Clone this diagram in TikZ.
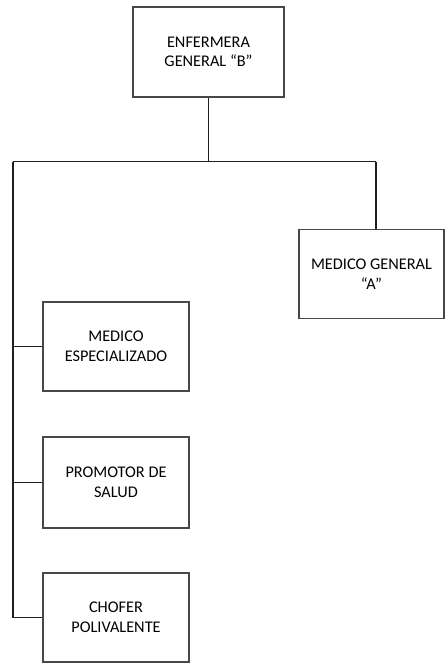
\documentclass[tikz,border=0pt]{standalone}
\usepackage{fontspec}
\setmainfont{Carlito}
\begin{document}
\begin{tikzpicture}[x=1pt,y=-1pt,
  orgbox/.style={draw=black!72, line width=1.1pt, fill=white, align=center,
    inner sep=0pt, font=\fontsize{16.3}{19.5}\selectfont},
  conn/.style={draw=black!88, line width=1.1pt}]
\useasboundingbox (0,0) rectangle (445,664);
\node[orgbox, minimum width=151pt, minimum height=90pt] (top) at (208.5,52) {ENFERMERA\\GENERAL “B”};
\node[orgbox, minimum width=145pt, minimum height=89pt] (medA) at (371.5,274) {MEDICO GENERAL\\“A”};
\node[orgbox, minimum width=146pt, minimum height=89pt] (esp) at (116,346.5) {MEDICO\\ESPECIALIZADO};
\node[orgbox, minimum width=146pt, minimum height=91pt] (prom) at (116,482.5) {PROMOTOR DE\\SALUD};
\node[orgbox, minimum width=146pt, minimum height=89pt] (chof) at (116,617.5) {CHOFER\\POLIVALENTE};
\coordinate (busL) at (13,161.5);
\coordinate (busR) at (376,161.5);
\draw[conn] (top.south) -- (top.south |- busL);
\draw[conn] (busL) -- (busR);
\draw[conn] (busR) -- (busR |- medA.north);
\draw[conn] (busL) -- (busL |- chof.west) -- (chof.west);
\draw[conn] (busL |- esp.west) -- (esp.west);
\draw[conn] (busL |- prom.west) -- (prom.west);
\end{tikzpicture}
\end{document}
